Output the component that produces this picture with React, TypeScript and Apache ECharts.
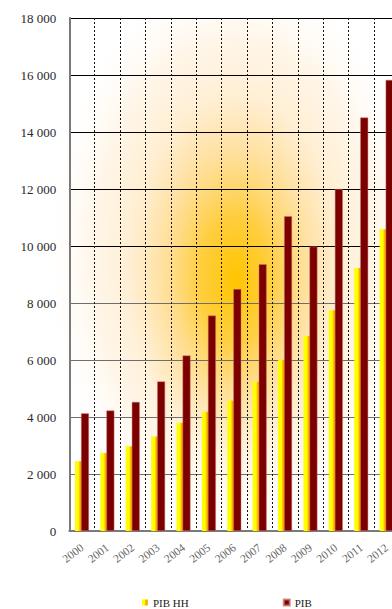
import React, { useEffect, useRef } from "react";
import * as echarts from "echarts";

// Years shown on the category axis
const years = [
  "2000", "2001", "2002", "2003", "2004", "2005", "2006",
  "2007", "2008", "2009", "2010", "2011", "2012",
];

// Household GDP (PIB HH)
const pibHH = [2450, 2740, 2970, 3320, 3800, 4180, 4570, 5240, 6000, 6840, 7750, 9230, 10590];

// Total GDP (PIB)
const pib = [4130, 4230, 4530, 5250, 6160, 7560, 8490, 9360, 11050, 9980, 12000, 14510, 15830];

const seriesNames = ["PIB HH", "PIB"];

const SERIF = "'Times New Roman', 'Liberation Serif', serif";

const fmt = (v: number) => {
  const s = String(Math.round(v));
  return s.replace(/\B(?=(\d{3})+(?!\d))/g, " ");
};

export default function App() {
  const ref = useRef<HTMLDivElement>(null);

  useEffect(() => {
    if (!ref.current) return;
    const chart = echarts.init(ref.current, undefined, { renderer: "svg" });

    const yellowFill = new echarts.graphic.LinearGradient(0, 0, 1, 0, [
      { offset: 0, color: "#ffff00" },
      { offset: 0.42, color: "#ffff00" },
      { offset: 0.68, color: "#ff9c00" },
      { offset: 1, color: "#ffc800" },
    ]);

    chart.setOption({
      animation: false,
      backgroundColor: "#ffffff",
      textStyle: { fontFamily: SERIF },
      graphic: {
        elements: [
          // broad pale glow behind the bars
          {
            type: "rect",
            z: -100,
            silent: true,
            shape: { x: 50, y: 20, width: 370, height: 560 },
            style: {
              fill: {
                type: "radial",
                x: 0.5,
                y: 0.42,
                r: 0.5,
                colorStops: [
                  { offset: 0, color: "rgba(255,212,120,0.9)" },
                  { offset: 0.45, color: "rgba(255,226,175,0.75)" },
                  { offset: 0.78, color: "rgba(255,238,212,0.5)" },
                  { offset: 1, color: "rgba(255,246,236,0)" },
                ],
              },
            },
          },
          // golden core
          {
            type: "rect",
            z: -99,
            silent: true,
            shape: { x: 130, y: 95, width: 210, height: 370 },
            style: {
              fill: {
                type: "radial",
                x: 0.5,
                y: 0.5,
                r: 0.5,
                colorStops: [
                  { offset: 0, color: "rgba(255,197,0,1)" },
                  { offset: 0.35, color: "rgba(255,202,40,0.8)" },
                  { offset: 0.7, color: "rgba(255,214,110,0.35)" },
                  { offset: 1, color: "rgba(255,225,160,0)" },
                ],
              },
            },
          },
        ],
      },
      grid: {
        left: 69.3,
        top: 18,
        width: 330,
        height: 513,
        containLabel: false,
      },
      legend: {
        data: seriesNames,
        left: 137,
        top: 592,
        itemGap: 94,
        itemWidth: 6,
        itemHeight: 6,
        icon: "rect",
        textStyle: { fontFamily: SERIF, fontSize: 11, color: "#222" },
      },
      xAxis: {
        type: "category",
        data: years,
        boundaryGap: true,
        axisLine: { show: true, lineStyle: { color: "#7a7a7a", width: 2 } },
        axisTick: { show: false },
        axisLabel: {
          interval: 0,
          rotate: 38,
          margin: 15,
          fontFamily: SERIF,
          fontSize: 11.5,
          color: "#666",
        },
        splitLine: {
          show: true,
          interval: 0,
          lineStyle: { color: "#111", width: 1, type: [2, 2] },
        },
      },
      yAxis: {
        type: "value",
        min: 0,
        max: 18000,
        interval: 2000,
        axisLine: { show: true, lineStyle: { color: "#7a7a7a", width: 2 } },
        axisTick: { show: false },
        axisLabel: {
          margin: 13,
          fontFamily: SERIF,
          fontSize: 13,
          color: "#2a2a2a",
          formatter: (v: number) => fmt(v),
        },
        splitLine: {
          show: true,
          lineStyle: {
            width: 1,
            color: [
              "#6e6e6e", "#6e6e6e", "#6e6e6e", "#6e6e6e", "#6e6e6e",
              "#000000", "#000000", "#000000", "#000000", "#000000",
            ],
          },
        },
      },
      series: [
        {
          name: seriesNames[0],
          type: "bar",
          data: pibHH,
          barWidth: 8,
          barGap: "-25%",
          itemStyle: { color: yellowFill },
        },
        {
          name: seriesNames[1],
          type: "bar",
          data: pib,
          barWidth: 8,
          barGap: "-25%",
          itemStyle: {
            color: "#7d0000",
            borderColor: "rgba(200,120,110,0.8)",
            borderWidth: 0.6,
          },
        },
      ],
    });

    return () => chart.dispose();
  }, []);

  return (
    <div
      style={{
        position: "fixed",
        left: 0,
        top: 0,
        width: 392,
        height: 609,
        overflow: "hidden",
        background: "#fff",
      }}
    >
      <div ref={ref} style={{ width: 420, height: 609 }} />
    </div>
  );
}
